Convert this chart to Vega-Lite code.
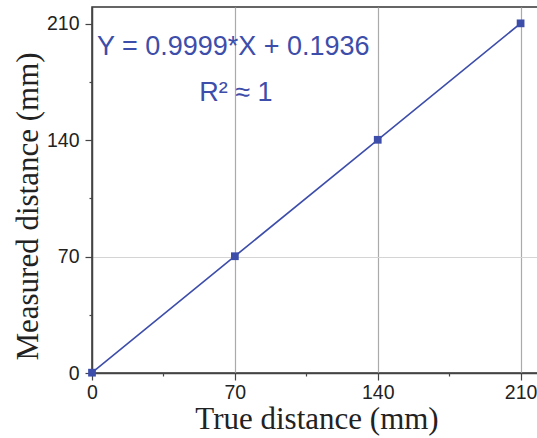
{
  "$schema": "https://vega.github.io/schema/vega-lite/v6.json",
  "autosize": "none",
  "width": 449,
  "height": 366,
  "padding": {"left": 92, "top": 7, "right": 0, "bottom": 65},
  "background": "white",
  "config": {
    "view": {"stroke": "#333", "strokeWidth": 1.5},
    "axis": {
      "labelFont": "Liberation Sans",
      "labelFontSize": 19.5,
      "labelColor": "#222",
      "labelFlush": false,
      "titleFont": "Liberation Serif",
      "titleFontSize": 31,
      "titleFontWeight": "normal",
      "titleColor": "#222",
      "domainColor": "#444",
      "domainWidth": 1.5,
      "tickColor": "#444",
      "tickWidth": 1.2
    }
  },
  "datasets": {
    "pts": [
      {"true": 0, "measured": 0.19},
      {"true": 70, "measured": 70.19},
      {"true": 140, "measured": 140.18},
      {"true": 210, "measured": 210.17}
    ],
    "notes": [
      {"x": 2.4, "y": 191, "t": "Y = 0.9999*X + 0.1936"},
      {"x": 52.5, "y": 163.5, "t": "R² ≈ 1"}
    ]
  },
  "layer": [
    {
      "data": {"name": "pts"},
      "mark": {"type": "line", "color": "#3d4daa", "strokeWidth": 1.6},
      "encoding": {
        "x": {
          "field": "true", "type": "quantitative",
          "scale": {"domain": [0, 220], "nice": false, "zero": false},
          "axis": {
            "title": "True distance (mm)",
            "values": [0, 35, 70, 105, 140, 175, 210],
            "labelExpr": "datum.value % 70 === 0 ? datum.label : ''",
            "tickSize": {"condition": {"test": "datum.value % 70 === 0", "value": 7}, "value": 3},
            "grid": true,
            "gridColor": {"condition": {"test": "datum.value % 70 === 0 && datum.value > 0", "value": "#aaa"}, "value": "transparent"},
            "gridWidth": 1.2,
            "labelPadding": 3,
            "titlePadding": 3
          }
        },
        "y": {
          "field": "measured", "type": "quantitative",
          "scale": {"domain": [0, 220], "nice": false, "zero": false},
          "axis": {
            "title": "Measured distance (mm)",
            "values": [0, 35, 70, 105, 140, 175, 210],
            "labelExpr": "datum.value % 70 === 0 ? datum.label : ''",
            "tickSize": {"condition": {"test": "datum.value % 70 === 0", "value": 7}, "value": 3},
            "grid": true,
            "gridColor": {"condition": {"test": "datum.value === 70", "value": "#d4d4d4"}, "value": "transparent"},
            "gridWidth": 1.2,
            "labelPadding": 6,
            "titlePadding": 2,
            "titleY": 199
          }
        }
      }
    },
    {
      "data": {"name": "pts"},
      "mark": {"type": "point", "shape": "square", "filled": true, "size": 60, "color": "#3d4daa", "opacity": 1},
      "encoding": {
        "x": {"field": "true", "type": "quantitative"},
        "y": {"field": "measured", "type": "quantitative"}
      }
    },
    {
      "data": {"name": "notes"},
      "mark": {"type": "text", "align": "left", "baseline": "alphabetic", "font": "Liberation Sans", "fontSize": 27, "color": "#3d4daa"},
      "encoding": {
        "x": {"field": "x", "type": "quantitative"},
        "y": {"field": "y", "type": "quantitative"},
        "text": {"field": "t"}
      }
    }
  ]
}
